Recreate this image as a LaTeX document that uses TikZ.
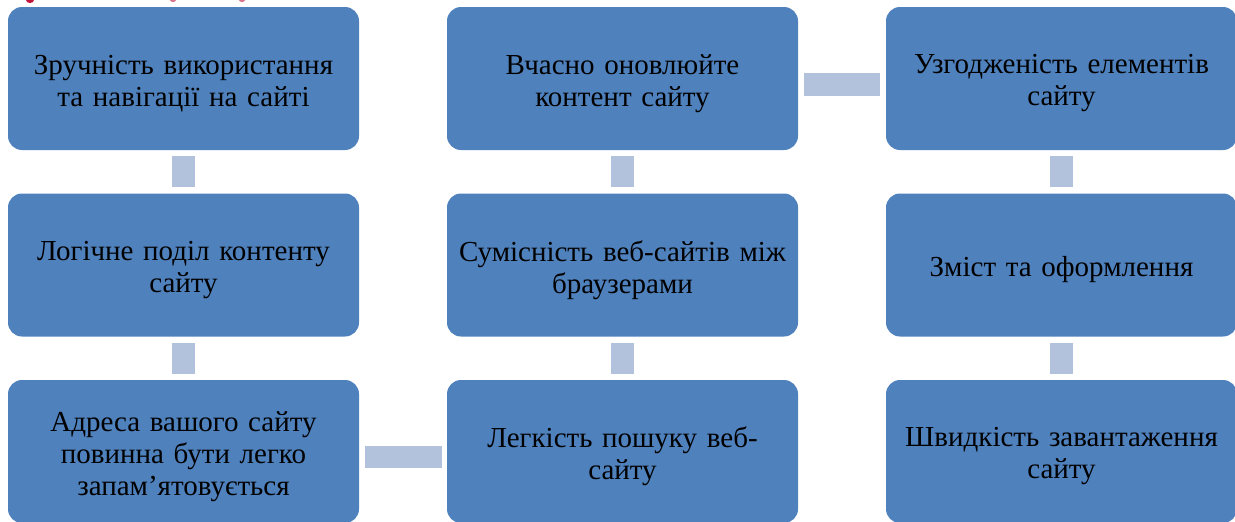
\documentclass[tikz,border=0pt]{standalone}
\usepackage{fontspec}
\setmainfont{Liberation Serif}
\newcommand{\apos}{{\char"0027}}
\begin{document}
\begin{tikzpicture}[x=1pt,y=-1pt,
  card/.style={fill=cardblue, draw=none, rounded corners=14pt,
    minimum width=351pt, minimum height=143pt, inner sep=0pt},
  cardtext/.style={text width=345pt, align=center, inner sep=0pt,
    font=\fontsize{29}{32}\selectfont, text=black},
  link/.style={fill=linkblue, draw=none}]
\definecolor{cardblue}{HTML}{4F81BD}
\definecolor{linkblue}{HTML}{B3C2DC}
\definecolor{inkred}{HTML}{C0143C}
\useasboundingbox (0,0) rectangle (1235,522);
\clip (0,0) rectangle (1235,522);

% cards
\node[card] (a1) at (183.5,78.5) {};
\node[card] (a2) at (183.5,265) {};
\node[card] (a3) at (183.5,451.5) {};
\node[card] (b1) at (622.5,78.5) {};
\node[card] (b2) at (622.5,265) {};
\node[card] (b3) at (622.5,451.5) {};
\node[card] (c1) at (1061.5,78.5) {};
\node[card] (c2) at (1061.5,265) {};
\node[card] (c3) at (1061.5,451.5) {};

% card texts, set slightly below the card centre
\node[cardtext] (a1t) at ([yshift=-5pt]a1.center) {Зручність використання\\та навігації на сайті};
\node[cardtext] (a2t) at ([yshift=-5pt]a2.center) {Логічне поділ контенту\\сайту};
\node[cardtext] (a3t) at ([yshift=-5pt]a3.center) {Адреса вашого сайту\\повинна бути легко\\запам\apos ятовується};
\node[cardtext] (b1t) at ([yshift=-5pt]b1.center) {Вчасно оновлюйте\\контент сайту};
\node[cardtext] (b2t) at ([yshift=-5pt]b2.center) {Сумісність веб-сайтів між\\браузерами};
\node[cardtext] (b3t) at ([yshift=-5pt]b3.center) {Легкість пошуку веб-\\сайту};
\node[cardtext] (c1t) at ([yshift=-5pt]c1.center) {Узгодженість елементів\\сайту};
\node[cardtext] (c2t) at ([yshift=-5pt]c2.center) {Зміст та оформлення};
\node[cardtext] (c3t) at ([yshift=-5pt]c3.center) {Швидкість завантаження\\сайту};

% vertical connectors
\path[link] ([xshift=-11.5pt,yshift=-6pt]a1.south) rectangle ([xshift=11.5pt,yshift=6pt]a2.north);
\path[link] ([xshift=-11.5pt,yshift=-6pt]a2.south) rectangle ([xshift=11.5pt,yshift=6pt]a3.north);
\path[link] ([xshift=-11.5pt,yshift=-6pt]b1.south) rectangle ([xshift=11.5pt,yshift=6pt]b2.north);
\path[link] ([xshift=-11.5pt,yshift=-6pt]b2.south) rectangle ([xshift=11.5pt,yshift=6pt]b3.north);
\path[link] ([xshift=-11.5pt,yshift=-6pt]c1.south) rectangle ([xshift=11.5pt,yshift=6pt]c2.north);
\path[link] ([xshift=-11.5pt,yshift=-6pt]c2.south) rectangle ([xshift=11.5pt,yshift=6pt]c3.north);
% horizontal connectors
\path[link] ([xshift=6pt,yshift=5.5pt]a3.east) rectangle ([xshift=-5pt,yshift=-16.5pt]b3.west);
\path[link] ([xshift=6pt,yshift=5.5pt]b1.east) rectangle ([xshift=-6pt,yshift=-17.5pt]c1.west);

% red marks along the top edge
\fill[inkred] (30,0) ellipse (4pt and 3pt);
\fill[inkred!60] (173,0) ellipse (3pt and 2pt);
\fill[inkred!60] (242,0) ellipse (3pt and 2pt);
\end{tikzpicture}
\end{document}
